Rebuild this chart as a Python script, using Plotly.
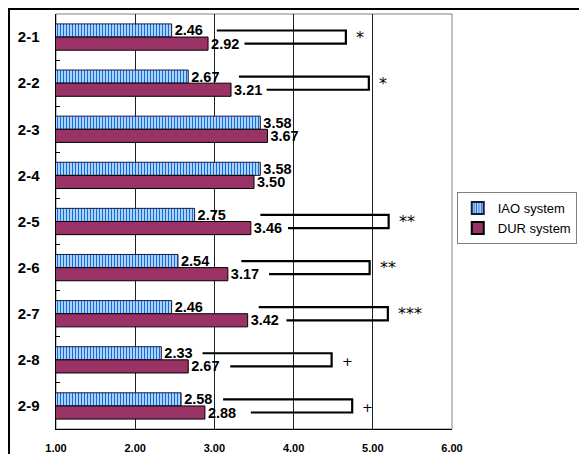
import plotly.graph_objects as go

categories = ["2-1", "2-2", "2-3", "2-4", "2-5", "2-6", "2-7", "2-8", "2-9"]
iao_values = [2.46, 2.67, 3.58, 3.58, 2.75, 2.54, 2.46, 2.33, 2.58]
dur_values = [2.92, 3.21, 3.67, 3.50, 3.46, 3.17, 3.42, 2.67, 2.88]
x_ticks = [1, 2, 3, 4, 5, 6]
x_tick_labels = ["1.00", "2.00", "3.00", "4.00", "5.00", "6.00"]

# significance brackets: (category, bracket start at DUR row, bracket end, mark)
sig_categories = ["2-1", "2-2", "2-5", "2-6", "2-7", "2-8", "2-9"]
sig_start = [3.38, 3.66, 3.93, 3.69, 3.91, 3.20, 3.46]
sig_end = [4.66, 4.95, 5.20, 4.96, 5.19, 4.48, 4.74]
sig_marks = ["*", "*", "**", "**", "***", "+", "+"]

BARGAP = 0.43
TOP_OFFSET = 0.35
label_font = dict(family="Liberation Sans, Arial, sans-serif", size=14.5, color="black", weight="bold")

fig = go.Figure()
fig.add_trace(go.Bar(
    name="IAO system", y=categories, x=iao_values, orientation="h",
    marker=dict(color="white", line=dict(color="#1a1a40", width=1),
                pattern=dict(shape="|", fgcolor="#0a6fe0", bgcolor="white",
                             size=3, solidity=0.55, fillmode="replace")),
    text=[f"{v:.2f}" for v in iao_values], textposition="outside",
    textfont=label_font, constraintext="none", cliponaxis=False,
))
fig.add_trace(go.Bar(
    name="DUR system", y=categories, x=dur_values, orientation="h",
    marker=dict(color="#993366", line=dict(color="black", width=1)),
    text=[f"{v:.2f}" for v in dur_values], textposition="outside",
    textfont=label_font, constraintext="none", cliponaxis=False,
))

half = (1 - BARGAP) / 4
shapes = []
annotations = []
for cat, s, e, m in zip(sig_categories, sig_start, sig_end, sig_marks):
    i = categories.index(cat)
    y_top = i - half
    y_bot = i + half
    shapes.append(dict(
        type="path", xref="x", yref="y",
        path=f"M {s - TOP_OFFSET},{y_top} L {e},{y_top} L {e},{y_bot} L {s},{y_bot}",
        line=dict(color="black", width=2.2), fillcolor="rgba(0,0,0,0)",
    ))
    annotations.append(dict(
        x=e, y=cat, xref="x", yref="y", text=m, showarrow=False,
        xanchor="left", yanchor="middle", xshift=8, yshift=0 if "*" in m else -2,
        font=dict(family="DejaVu Sans, sans-serif", size=16 if "*" in m else 13, color="black"),
    ))

# plot-area frame (grey) and outer chart border
shapes.append(dict(type="rect", xref="paper", yref="paper", x0=0, x1=1, y0=0, y1=1,
                   line=dict(color="#808080", width=1), layer="below"))
shapes.append(dict(type="path", xref="paper", yref="paper",
                   path="M -0.1187,-0.1 L -0.1187,1.0121 L 1.4,1.0121",
                   line=dict(color="black", width=2)))

fig.update_layout(
    width=587, height=454,
    margin=dict(l=48, r=143, t=6, b=33, autoexpand=False),
    paper_bgcolor="white", plot_bgcolor="white",
    barmode="group", bargap=BARGAP, bargroupgap=0,
    shapes=shapes, annotations=annotations,
    showlegend=True,
    legend=dict(x=1.012, y=0.571, xanchor="left", yanchor="top",
                bordercolor="#808080", borderwidth=1, bgcolor="white",
                font=dict(family="Liberation Sans, Arial, sans-serif", size=13, color="black"),
                tracegroupgap=0, itemwidth=30, itemsizing="constant"),
    xaxis=dict(range=[1, 6], tickvals=x_ticks, ticktext=x_tick_labels,
               showgrid=True, gridcolor="#202020", gridwidth=1,
               showline=True, linecolor="black", linewidth=1,
               ticks="", zeroline=False, automargin=False, ticklabelstandoff=9,
               tickfont=dict(family="Liberation Sans, Arial, sans-serif", size=11, color="black", weight="bold")),
    yaxis=dict(categoryorder="array", categoryarray=categories, autorange="reversed",
               showline=True, linecolor="black", linewidth=1, automargin=False,
               ticks="inside", ticklen=4, tickcolor="black", tickson="boundaries",
               showgrid=False, ticksuffix="   ",
               tickfont=dict(family="Liberation Sans, Arial, sans-serif", size=15, color="black", weight="bold")),
)

fig.write_html("out.html")
